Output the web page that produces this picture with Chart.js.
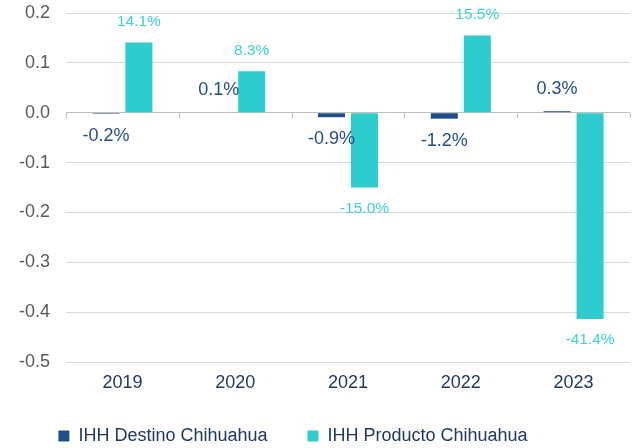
<!DOCTYPE html>
<html>
<head>
<meta charset="utf-8">
<script src="https://cdn.jsdelivr.net/npm/chart.js@4"></script>
<style>
  html, body { margin: 0; padding: 0; background: #fff; }
  #wrap { width: 633px; height: 448px; }
</style>
</head>
<body>
<div id="wrap"><canvas id="myChart"></canvas></div>
<script>
const years = ['2019', '2020', '2021', '2022', '2023'];
const destino = [-0.002, 0.001, -0.009, -0.012, 0.003];
const producto = [0.141, 0.083, -0.150, 0.155, -0.414];
const yTicks = [-0.5, -0.4, -0.3, -0.2, -0.1, 0.0, 0.1, 0.2];

const navy = '#1f4e89';
const teal = '#2ecccc';
const fontFam = '"Liberation Sans", Arial, sans-serif';

// etiquetas de porcentaje y marcas sobre la linea del cero
const barLabels = {
    id: 'barLabels',
    afterInit(chart) {
        const lg = chart.legend;
        const fit0 = lg.fit.bind(lg);
        lg.fit = function () { fit0(); this.height = 52; };
    },
    afterLayout(chart) {
        const lg = chart.legend;
        lg.left -= 22; lg.right -= 22;
        lg.top -= 9; lg.height += 9;
    },
    afterDatasetsDraw(chart) {
        const ctx = chart.ctx;
        const xs = chart.scales.x;
        const ys = chart.scales.y;
        const y0 = ys.getPixelForValue(0);

        ctx.save();
        ctx.strokeStyle = '#bfbfbf';
        ctx.lineWidth = 1;
        const step = xs.getPixelForValue(1) - xs.getPixelForValue(0);
        for (let i = 0; i <= years.length; i++) {
            const x = Math.round(xs.getPixelForValue(0) - step / 2 + i * step) + 0.5;
            ctx.beginPath();
            ctx.moveTo(x, y0);
            ctx.lineTo(x, y0 + 5);
            ctx.stroke();
        }

        ctx.textAlign = 'center';
        ctx.textBaseline = 'middle';
        chart.data.datasets.forEach((ds, di) => {
            const meta = chart.getDatasetMeta(di);
            ctx.fillStyle = di === 0 ? navy : '#3dd1d1';
            ctx.font = (di === 0 ? '18px ' : '15.5px ') + fontFam;
            meta.data.forEach((el, i) => {
                const v = ds.data[i];
                const off = di === 0 ? 22 : 21;
                const y = v >= 0 ? el.y - off : el.y + off;
                ctx.fillText((v * 100).toFixed(1) + '%', el.x, y);
            });
        });
        ctx.restore();
    }
};

const data = {
    labels: years,
    datasets: [
        {
            label: 'IHH Destino Chihuahua',
            data: destino,
            backgroundColor: navy,
            barPercentage: 0.82,
            categoryPercentage: 0.585
        },
        {
            label: 'IHH Producto Chihuahua',
            data: producto,
            backgroundColor: teal,
            barPercentage: 0.82,
            categoryPercentage: 0.585
        }
    ]
};

const conf = {
    type: 'bar',
    data,
    plugins: [barLabels],
    options: {
        responsive: true,
        maintainAspectRatio: false,
        animation: false,
        layout: { padding: { top: 4, right: 3, left: 0, bottom: 0 } },
        plugins: {
            tooltip: { enabled: false },
            legend: {
                position: 'bottom',
                labels: {
                    boxWidth: 11,
                    boxHeight: 11,
                    padding: 40,
                    color: '#1f3864',
                    font: { size: 18, family: fontFam }
                }
            }
        },
        scales: {
            x: {
                grid: { display: false, drawTicks: false },
                border: { display: false },
                afterFit(scale) { scale.height = 34; },
                ticks: {
                    color: '#1f3864',
                    padding: 10,
                    font: { size: 18, family: fontFam }
                }
            },
            y: {
                min: -0.5,
                max: 0.2,
                afterFit(scale) { scale.width = 66; scale.paddingTop = 13; },
                afterBuildTicks(scale) {
                    scale.ticks = yTicks.map(v => ({ value: v }));
                },
                border: { display: false },
                grid: {
                    drawTicks: false,
                    color: (c) => Math.abs(c.tick.value) < 1e-9 ? '#bfbfbf' : '#d9d9d9'
                },
                ticks: {
                    color: '#595959',
                    padding: 16,
                    font: { size: 18, family: fontFam },
                    callback: (v) => v.toFixed(1)
                }
            }
        }
    }
};

const myChart = new Chart(document.getElementById('myChart'), conf);
</script>
</body>
</html>
